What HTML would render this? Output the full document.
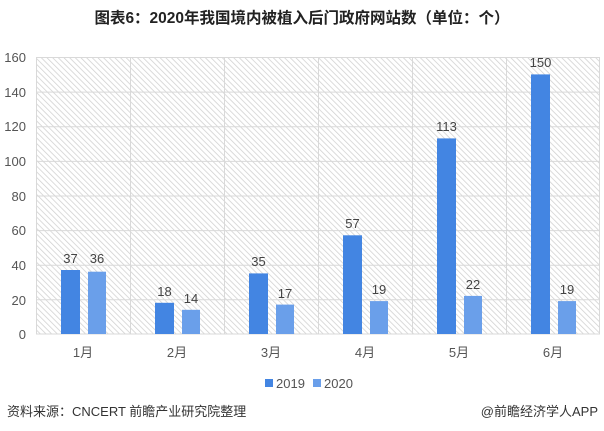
<!DOCTYPE html>
<html><head><meta charset="utf-8"><style>
html,body{margin:0;padding:0;background:#fff;}
svg{display:block;font-family:"Liberation Sans","Noto Sans CJK SC",sans-serif;}
</style></head><body>
<svg width="604" height="431" viewBox="0 0 604 431" xmlns="http://www.w3.org/2000/svg">
<defs>
<pattern id="h" width="4" height="4" patternUnits="userSpaceOnUse" patternTransform="rotate(-45)">
<rect width="4" height="4" fill="#fff"/>
<line x1="0" y1="0" x2="0" y2="4" stroke="#cfcfcf" stroke-width="1.5"/>
</pattern>
</defs>
<text x="302" y="23" text-anchor="middle" font-size="15.5" font-weight="bold" fill="#222">图表6：2020年我国境内被植入后门政府网站数（单位：个）</text>
<rect x="36" y="57" width="564" height="277" fill="url(#h)"/>
<g stroke="#d9d9d9" stroke-width="1">
<line x1="36" y1="57.5" x2="600" y2="57.5"/>
<line x1="36" y1="92.1" x2="600" y2="92.1"/>
<line x1="36" y1="126.7" x2="600" y2="126.7"/>
<line x1="36" y1="161.4" x2="600" y2="161.4"/>
<line x1="36" y1="196" x2="600" y2="196"/>
<line x1="36" y1="230.6" x2="600" y2="230.6"/>
<line x1="36" y1="265.2" x2="600" y2="265.2"/>
<line x1="36" y1="299.8" x2="600" y2="299.8"/>
<line x1="36" y1="334" x2="600" y2="334"/>
<line x1="36.5" y1="57" x2="36.5" y2="334"/>
<line x1="130.5" y1="57" x2="130.5" y2="334"/>
<line x1="224.5" y1="57" x2="224.5" y2="334"/>
<line x1="318.5" y1="57" x2="318.5" y2="334"/>
<line x1="412.5" y1="57" x2="412.5" y2="334"/>
<line x1="506.5" y1="57" x2="506.5" y2="334"/>
<line x1="599.5" y1="57" x2="599.5" y2="334"/>
</g>
<g font-size="13" fill="#555" text-anchor="end">
<text x="26" y="62">160</text><text x="26" y="97">140</text><text x="26" y="131">120</text>
<text x="26" y="166">100</text><text x="26" y="201">80</text><text x="26" y="235">60</text>
<text x="26" y="270">40</text><text x="26" y="305">20</text><text x="26" y="339">0</text>
</g>
<g fill="#4385e2">
<rect x="61" y="270" width="19" height="64"/>
<rect x="155" y="302.8" width="19" height="31.2"/>
<rect x="249" y="273.4" width="19" height="60.6"/>
<rect x="343" y="235.3" width="19" height="98.7"/>
<rect x="437" y="138.4" width="19" height="195.6"/>
<rect x="531" y="74.4" width="19" height="259.6"/>
</g>
<g fill="#6a9fea">
<rect x="88" y="271.7" width="18" height="62.3"/>
<rect x="182" y="309.8" width="18" height="24.2"/>
<rect x="276" y="304.6" width="18" height="29.4"/>
<rect x="370" y="301.1" width="18" height="32.9"/>
<rect x="464" y="295.9" width="18" height="38.1"/>
<rect x="558" y="301.1" width="18" height="32.9"/>
</g>
<g font-size="13" fill="#444" text-anchor="middle">
<text x="70.5" y="263">37</text><text x="97" y="263">36</text>
<text x="164.5" y="296">18</text><text x="191" y="303">14</text>
<text x="258.5" y="266">35</text><text x="285" y="298">17</text>
<text x="352.5" y="228">57</text><text x="379" y="294">19</text>
<text x="446.5" y="131">113</text><text x="473" y="289">22</text>
<text x="540.5" y="67">150</text><text x="567" y="294">19</text>
</g>
<g font-size="13" fill="#555" text-anchor="middle">
<text x="83" y="357">1月</text><text x="177" y="357">2月</text><text x="271" y="357">3月</text>
<text x="365" y="357">4月</text><text x="459" y="357">5月</text><text x="553" y="357">6月</text>
</g>
<rect x="265" y="379" width="8" height="8" fill="#4385e2"/>
<text x="276" y="388" font-size="13" fill="#555">2019</text>
<rect x="313" y="379" width="8" height="8" fill="#6a9fea"/>
<text x="324" y="388" font-size="13" fill="#555">2020</text>
<text x="7" y="416" font-size="13" fill="#333">资料来源：CNCERT 前瞻产业研究院整理</text>
<text x="598" y="416" font-size="13" fill="#333" text-anchor="end">@前瞻经济学人APP</text>
</svg>
</body></html>
